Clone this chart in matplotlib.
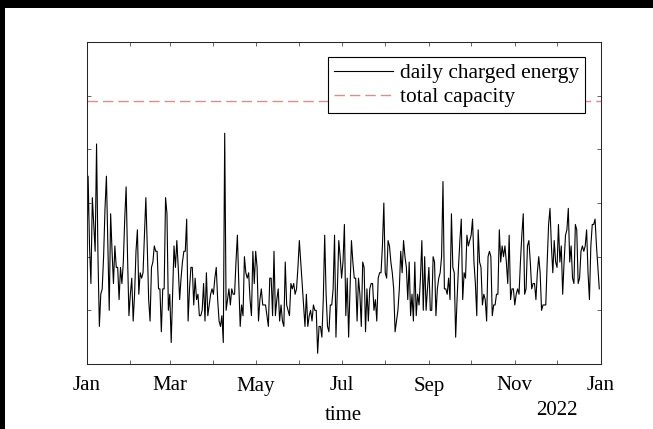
import numpy as np
import pandas as pd
import matplotlib
matplotlib.use("Agg")
import matplotlib.pyplot as plt
from matplotlib.patches import Rectangle

# ---------------- data ----------------
start_date = "2021-01-01"
end_date = "2022-01-01"
daily_energy = [
    17, 35, 22, 15, 31, 26, 21, 41, 20, 7, 13, 14, 20, 29, 35, 22, 10, 28, 21, 15,
    22, 18, 18, 12, 18, 15, 19, 27, 33, 20, 9, 13, 16, 8, 13, 21, 25, 13, 17, 16,
    17, 24, 31, 22, 12, 8, 18, 19, 22, 21, 21, 14, 14, 6, 14, 14, 31, 28, 10, 13,
    4, 13, 22, 18, 23, 18, 12, 16, 19, 21, 21, 27, 8, 14, 18, 18, 11, 16, 12, 13,
    9, 9, 10, 15, 8, 17, 9, 11, 13, 14, 13, 16, 18, 12, 8, 7, 9, 4, 43, 10,
    12, 14, 11, 14, 13, 13, 19, 24, 15, 7, 11, 9, 20, 17, 16, 17, 12, 9, 21, 15,
    21, 18, 8, 12, 14, 11, 11, 11, 9, 7, 16, 16, 9, 21, 9, 12, 14, 8, 11, 8,
    7, 19, 11, 10, 9, 15, 14, 15, 13, 14, 18, 23, 19, 15, 11, 7, 13, 7, 9, 10,
    8, 11, 10, 10, 2, 7, 7, 5, 12, 24, 13, 7, 6, 11, 11, 14, 24, 5, 14, 23,
    20, 16, 19, 26, 9, 16, 5, 14, 23, 19, 16, 16, 8, 16, 13, 7, 19, 18, 6, 14,
    8, 14, 15, 15, 10, 12, 8, 16, 17, 17, 22, 30, 17, 16, 23, 22, 19, 17, 14, 6,
    8, 10, 14, 21, 17, 23, 20, 18, 12, 19, 9, 13, 8, 19, 9, 13, 11, 16, 23, 10,
    20, 10, 14, 18, 10, 10, 20, 19, 9, 14, 16, 17, 20, 34, 14, 14, 13, 16, 12, 28,
    18, 17, 5, 12, 18, 23, 27, 12, 17, 16, 24, 22, 23, 24, 27, 19, 15, 9, 25, 19,
    18, 11, 13, 12, 8, 20, 21, 20, 9, 11, 11, 13, 13, 25, 19, 22, 20, 22, 19, 15,
    24, 12, 14, 14, 11, 13, 14, 13, 19, 24, 28, 13, 14, 22, 23, 19, 14, 15, 15, 12,
    17, 20, 17, 10, 11, 11, 11, 19, 26, 29, 22, 17, 23, 19, 18, 26, 19, 22, 13, 19,
    24, 25, 29, 19, 22, 16, 15, 26, 25, 15, 16, 21, 22, 21, 22, 25, 17, 12, 22, 26,
    26, 27, 22, 18, 14,
]
total_capacity = 49
series_labels = ["daily charged energy", "total capacity"]
x_label = "time"
year_label = "2022"
month_names = ["Jan", "Feb", "Mar", "Apr", "May", "Jun", "Jul",
               "Aug", "Sep", "Oct", "Nov", "Dec", "Jan"]
y_ticks = [0, 10, 20, 30, 40, 50, 60]

dates = pd.date_range(start_date, periods=len(daily_energy), freq="D")

# ---------------- figure ----------------
W, H = 653, 429
FS = 15
plt.rcParams["font.family"] = ["Liberation Serif", "DejaVu Serif"]
plt.rcParams["lines.scale_dashes"] = False

fig = plt.figure(figsize=(W / 100, H / 100), dpi=100, facecolor="white")

# background layer: white page with black border strips (top and left)
bg = fig.add_axes([0, 0, 1, 1], zorder=-1)
bg.set_xlim(0, W)
bg.set_ylim(H, 0)
bg.axis("off")
bg.add_patch(Rectangle((0, 0), W, H, facecolor="white", edgecolor="none"))
bg.add_patch(Rectangle((0, 0), W, 8, facecolor="black", edgecolor="none"))
bg.add_patch(Rectangle((0, 0), 5, H, facecolor="black", edgecolor="none"))

ax = fig.add_axes([86.7 / W, 65 / H, 514 / W, 322 / H])

ax.plot(dates, daily_energy, color="black", lw=0.8,
        label=series_labels[0])
ax.axhline(total_capacity, color="#ff7f7f", lw=1.0,
           linestyle=(0, (7.5, 3.6)), label=series_labels[1])

ax.set_xlim(pd.Timestamp(start_date), pd.Timestamp(end_date))
ax.set_ylim(y_ticks[0], y_ticks[-1])
ax.set_yticks(y_ticks)
ax.set_yticklabels([""] * len(y_ticks))

month_ticks = pd.date_range(start_date, end_date, freq="MS")
ax.set_xticks(month_ticks)
ax.set_xticklabels([m if i % 2 == 0 else "" for i, m in enumerate(month_names)])

spine_color = "#262626"
for s in ax.spines.values():
    s.set_color(spine_color)
    s.set_linewidth(0.75)
ax.tick_params(axis="both", which="both", direction="in", length=2.6,
               width=0.5, color=spine_color, top=True, right=True,
               labelsize=FS, labelcolor="black")
ax.tick_params(axis="x", pad=9)

ax.set_xlabel(x_label, fontsize=FS, labelpad=7.5)

ax.text(557 / W, (H - 415) / H, year_label, transform=fig.transFigure,
        fontsize=FS, ha="center", va="baseline")

leg = ax.legend(loc="upper right", bbox_to_anchor=(0.9695, 0.9525),
                borderaxespad=0, fontsize=15.4, frameon=True, fancybox=False,
                edgecolor="black", framealpha=1, handlelength=2.75,
                handletextpad=0.33, borderpad=0.28, labelspacing=0.18)
leg.get_frame().set_linewidth(0.8)

fig.savefig("out.png", dpi=100, facecolor="white")
